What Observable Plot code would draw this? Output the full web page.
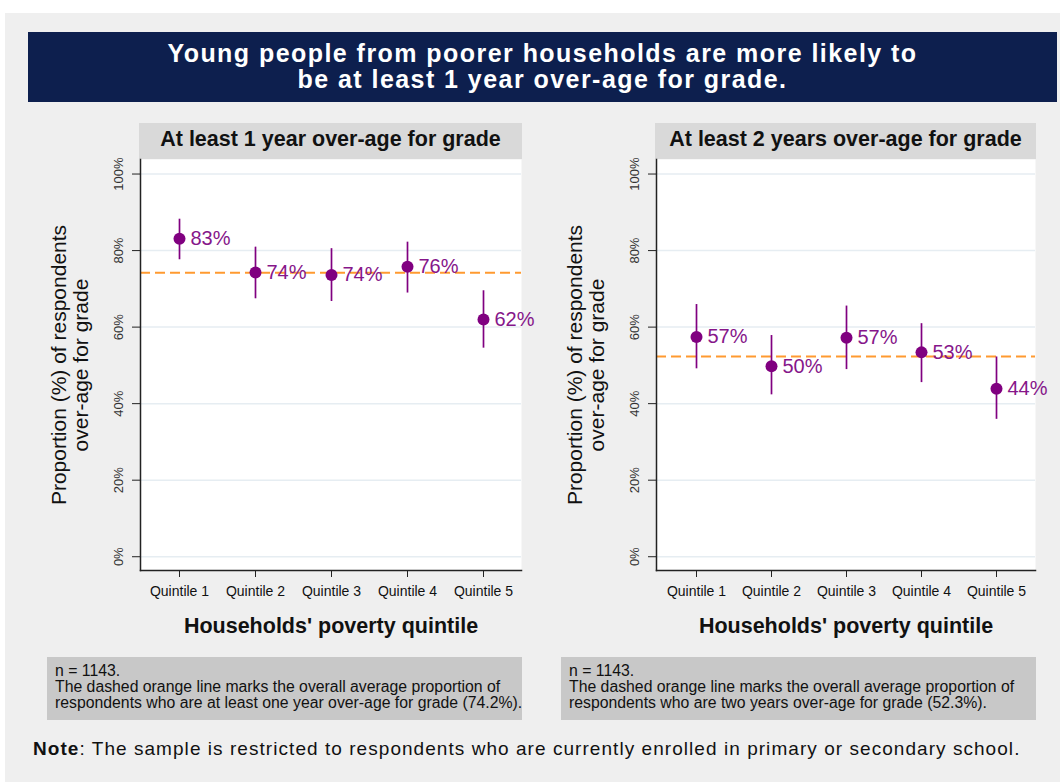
<!DOCTYPE html>
<html>
<head>
<meta charset="utf-8">
<script src="https://cdn.jsdelivr.net/npm/d3@7"></script>
<script src="https://cdn.jsdelivr.net/npm/@observablehq/plot@0.6"></script>
<style>
  body { margin: 0; background: #ffffff; font-family: "Liberation Sans", Arial, sans-serif; }
  #page { position: relative; width: 1060px; height: 782px; overflow: hidden; }
  .abs { position: absolute; }
  #bg { left: 5px; top: 13px; right: 0; bottom: 0; background: #efefef; }
  #title { left: 28px; top: 32px; width: 1029px; height: 70px; background: #0d1f4e; color: #fff;
           font-weight: bold; font-size: 25px; line-height: 26px; letter-spacing: 1.45px; text-align: center;
           box-sizing: border-box; padding-top: 8px; }
  .hdr { top: 123px; height: 36px; background: #d9d9d9; color: #111; font-weight: bold; font-size: 21.5px;
         display: flex; align-items: center; justify-content: center; box-sizing: border-box; padding-bottom: 3px; }
  .note { top: 657px; width: 475px; height: 63px; background: #c8c8c8; color: #111; font-size: 15.8px;
          line-height: 16px; box-sizing: border-box; padding: 6px 0 0 8px; white-space: nowrap; }
  #foot { left: 33px; top: 739px; font-size: 19px; line-height: 20px; color: #111; white-space: nowrap; letter-spacing: 1.05px; }
</style>
</head>
<body>
<div id="page">
  <div id="bg" class="abs"></div>
  <div id="title" class="abs">Young people from poorer households are more likely to<br>be at least 1 year over-age for grade.</div>
  <div class="abs hdr" style="left:139px; width:383px;">At least 1 year over-age for grade</div>
  <div class="abs hdr" style="left:655px; width:381px;">At least 2 years over-age for grade</div>
  <div id="left" class="abs" style="left:40px; top:159px;"></div>
  <div id="right" class="abs" style="left:556px; top:159px;"></div>
  <div class="abs note" style="left:47px;">n = 1143.<br>The dashed orange line marks the overall average proportion of<br>respondents who are at least one year over-age for grade (74.2%).</div>
  <div class="abs note" style="left:561px;">n = 1143.<br>The dashed orange line marks the overall average proportion of<br>respondents who are two years over-age for grade (52.3%).</div>
  <div id="foot" class="abs"><b>Note</b>: The sample is restricted to respondents who are currently enrolled in primary or secondary school.</div>
</div>
<script>
// Household poverty quintiles (1 = poorest)
const quintiles = ["Quintile 1", "Quintile 2", "Quintile 3", "Quintile 4", "Quintile 5"];

// At least 1 year over-age for grade: estimate and 95% interval (%)
const overAge1 = [83.1, 74.3, 73.6, 75.8, 62.0];
const overAge1Lo = [77.6, 67.4, 66.7, 68.9, 54.5];
const overAge1Hi = [88.2, 80.9, 80.5, 82.2, 69.5];
const overAge1Avg = 74.2;

// At least 2 years over-age for grade: estimate and 95% interval (%)
const overAge2 = [57.4, 49.8, 57.2, 53.4, 43.9];
const overAge2Lo = [49.1, 42.3, 48.9, 45.5, 35.9];
const overAge2Hi = [65.9, 57.8, 65.5, 60.9, 52.2];
const overAge2Avg = 52.3;

const yTicks = [0, 20, 40, 60, 80, 100];
const yMin = -3.6, yMax = 103.8;

const purple = "#800080";
const orange = "#ff9a30";

function panel(values, lo, hi, avg, marginRight) {
  const rows = quintiles.map((q, i) => ({q, v: values[i], lo: lo[i], hi: hi[i]}));
  return Plot.plot({
    width: 500,
    height: 487,
    marginLeft: 100,
    marginRight,
    marginTop: 0,
    marginBottom: 76,
    style: {background: "transparent", overflow: "visible", color: "#111",
            fontFamily: "'Liberation Sans', Arial, sans-serif"},
    x: {type: "point", domain: quintiles, padding: 0.5},
    y: {domain: [yMin, yMax]},
    marks: [
      Plot.frame({fill: "white", stroke: "none"}),
      Plot.gridY(yTicks, {stroke: "#e6edf2", strokeOpacity: 1, strokeWidth: 1.5}),
      Plot.ruleY([avg], {stroke: orange, strokeWidth: 2, strokeDasharray: "10,5"}),
      Plot.ruleX(rows, {x: "q", y1: "lo", y2: "hi", stroke: purple, strokeWidth: 1.7}),
      Plot.dot(rows, {x: "q", y: "v", r: 6, fill: purple, stroke: "none"}),
      Plot.text(rows, {x: "q", y: "v", text: d => Math.round(d.v) + "%", dx: 11,
                       textAnchor: "start", lineAnchor: "middle", fill: "#86168a", fontSize: 20}),
      Plot.axisY(yTicks, {tickSize: 8, tickFormat: () => "", label: null, stroke: "#222"}),
      Plot.text(yTicks, {y: d => d, text: d => d + "%", frameAnchor: "left", dx: -21.5, rotate: -90,
                         textAnchor: "middle", lineAnchor: "middle", fontSize: 13, fill: "#333"}),
      Plot.text(["Proportion (%) of respondents\nover-age for grade"], {
        text: d => d, frameAnchor: "left", dx: -71, rotate: -90, fontSize: 21, lineHeight: 1.05,
        textAnchor: "middle", lineAnchor: "middle", fill: "#111"}),
      Plot.axisX({tickSize: 7, tickPadding: 9, fontSize: 14, label: null, stroke: "#222"}),
      Plot.text(["Households' poverty quintile"], {
        text: d => d, frameAnchor: "bottom", dy: 62, lineAnchor: "bottom",
        fontWeight: "bold", fontSize: 21.5, fill: "#111"}),
      Plot.frame({anchor: "left", stroke: "#222", strokeWidth: 1.5}),
      Plot.frame({anchor: "bottom", stroke: "#222", strokeWidth: 1.5})
    ]
  });
}

document.getElementById("left").append(panel(overAge1, overAge1Lo, overAge1Hi, overAge1Avg, 19));
document.getElementById("right").append(panel(overAge2, overAge2Lo, overAge2Hi, overAge2Avg, 21));
</script>
</body>
</html>
